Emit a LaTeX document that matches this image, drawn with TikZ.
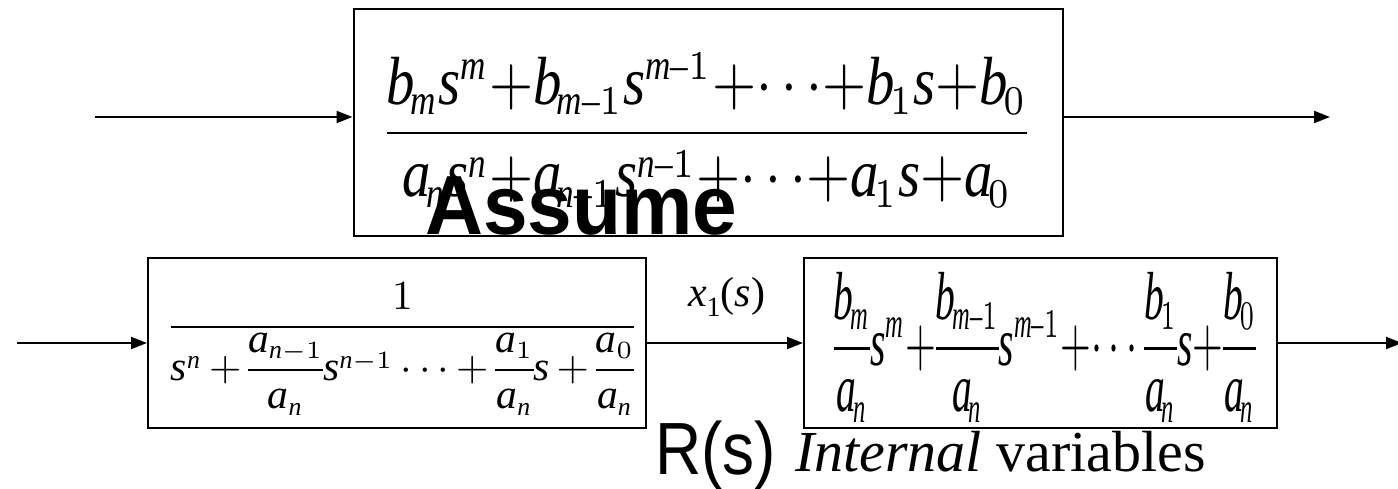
\documentclass[tikz,border=0pt]{standalone}
\usepackage{amsmath}
\usepackage{fontspec}
\setmainfont{Liberation Serif}
\setsansfont{Liberation Sans}
\DeclareSymbolFont{letters}{TU}{\rmdefault}{m}{it}
\DeclareMathSizes{10}{10}{6.2}{5}
\usepackage{graphicx}
\usetikzlibrary{arrows.meta,positioning}

\tikzset{
  blk/.style={draw, line width=2pt, inner sep=0pt},
  sig/.style={-{Triangle[length=16pt,width=12pt]}, line width=2pt},
  eqn/.style={inner sep=0pt, outer sep=0pt},
}
\newcommand{\fsz}[1]{\fontsize{#1}{#1}\selectfont}
\newcommand{\tight}{\medmuskip=0mu\nulldelimiterspace=0pt}
% subscript tucked under the letter, short minus in scripts
\newcommand{\ix}[1]{_{\mkern-2mu #1}}
\newcommand{\mo}{\textup{–}}

\begin{document}
\begin{tikzpicture}[x=1pt, y=-1pt]
  \useasboundingbox (0,0) rectangle (1398,489);

  % original transfer function
  \node[blk, minimum width=709pt, minimum height=227pt] (tf) at (708,122.5) {};
  \node[eqn] (tfeq) at (707,130) {\resizebox*{640pt}{154pt}{\tight
    $\displaystyle\frac{b\ix{m} s^m + b\ix{m\mo1}s^{m\mo1} + \cdots + b\ix{1} s + b\ix{0}}
                       {a\ix{n} s^n + a\ix{n\mo1}s^{n\mo1} + \cdots + a\ix{1} s + a\ix{0}}$}};
  \coordinate (in0) at (95,117);
  \coordinate (out0) at (1330,117);
  \draw[sig] (in0) -- (in0 -| tf.west);
  \draw[sig] (out0 -| tf.east) -- (out0);

  % split into two blocks
  \node[blk, minimum width=498pt, minimum height=170pt] (ga) at (397,343) {};
  \node[eqn] (gaeq) at (402.5,349) {\resizebox*{463pt}{132pt}{\nulldelimiterspace=0pt\medmuskip=3mu
    $\displaystyle\frac{1}{s^{n} + \dfrac{a_{n-1}}{a_n}s^{n-1}\cdots + \dfrac{a_1}{a_n}s + \dfrac{a_0}{a_n}}$}};
  \node[blk, minimum width=473pt, minimum height=170pt] (gb) at (1040.5,343) {};
  \node[eqn] (gbeq) at (1045,347) {\resizebox*{422pt}{150pt}{\tight
    $\displaystyle\frac{b\ix{m}}{a\ix{n}}s^m + \frac{b\ix{m\mo1}}{a\ix{n}}s^{m\mo1} + \cdots\frac{b\ix{1}}{a\ix{n}}s + \frac{b\ix{0}}{a\ix{n}}$}};
  \coordinate (in1) at (17,343);
  \coordinate (out1) at (1402,343);
  \draw[sig] (in1) -- (ga);
  \draw[sig] (ga) -- (gb);
  \draw[sig] (gb) -- (out1);
  \node[anchor=base, inner sep=0pt, font=\fsz{42}] (x1) at (726.5,306)
    {\textit{x}\raisebox{-0.25em}{\fsz{28}1}(\textit{s})};

  % labels
  \node[anchor=base west, inner sep=0pt, font=\sffamily\bfseries\fsz{84}] (assume) at (425,235) {\scalebox{0.955}[1]{Assume}};
  \node[anchor=base west, inner sep=0pt, font=\sffamily\fsz{74}] (rs) at (655,474) {\scalebox{0.865}[1]{R(s)}};
  \node[anchor=base west, inner sep=0pt, font=\fsz{58}] (intv) at (795,471) {\textit{Internal} variables};
\end{tikzpicture}
\end{document}
